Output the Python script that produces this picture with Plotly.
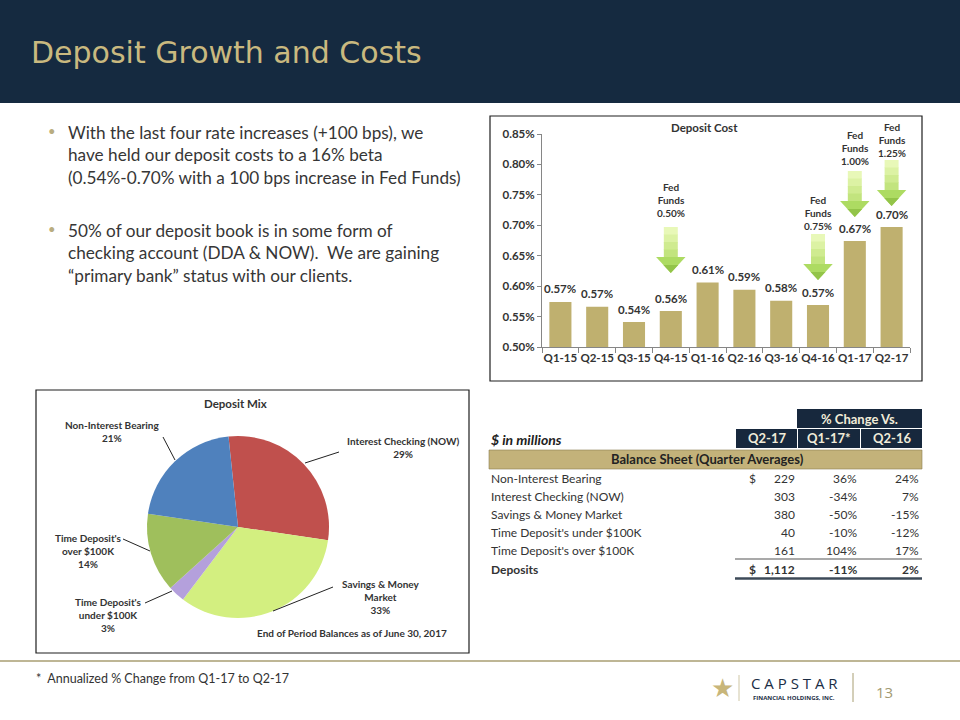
import plotly.graph_objects as go

# ---------------- data ----------------
quarters = ["Q1-15", "Q2-15", "Q3-15", "Q4-15", "Q1-16", "Q2-16", "Q3-16", "Q4-16", "Q1-17", "Q2-17"]
deposit_cost = [0.574, 0.566, 0.541, 0.559, 0.606, 0.594, 0.576, 0.569, 0.674, 0.697]
y_ticks = [0.50, 0.55, 0.60, 0.65, 0.70, 0.75, 0.80, 0.85]

fed_quarters = ["Q4-15", "Q4-16", "Q1-17", "Q2-17"]
fed_rates = ["0.50%", "0.75%", "1.00%", "1.25%"]

mix_labels = ["Interest Checking (NOW)", "Savings & Money Market", "Time Deposit's under $100K",
              "Time Deposit's over $100K", "Non-Interest Bearing"]
mix_values = [29, 33, 3, 14, 21]
mix_colors = ["#c0504d", "#d3ef80", "#b4a0dc", "#9fbf5c", "#4f81bd"]

tbl_labels = ["Non-Interest Bearing", "Interest Checking (NOW)", "Savings & Money Market",
              "Time Deposit's under $100K", "Time Deposit's over $100K", "Deposits"]
tbl_q2_17 = [229, 303, 380, 40, 161, 1112]
tbl_chg_q1_17 = [36, -34, -50, -10, 104, -11]
tbl_chg_q2_16 = [24, 7, -15, -12, 17, 2]
tbl_headers = ["Q2-17", "Q1-17*", "Q2-16"]

W, H = 960, 720
def X(px): return px / W
def Y(py): return 1 - py / H

NAVY = "#152a40"
GOLD = "#c9b97f"
TXT = "#333333"
FONT = "Lato"

ann = []
shapes = []

def A(text, px, py, size, color=TXT, xa="center", ya="middle", family=FONT, align="center"):
    ann.append(dict(x=X(px), y=Y(py), xref="paper", yref="paper", text=text, showarrow=False,
                    xanchor=xa, yanchor=ya, align=align,
                    font=dict(family=family, size=size, color=color)))

def R(x0, y0, x1, y1, fill, line=None, layer="above"):
    shapes.append(dict(type="rect", xref="paper", yref="paper", x0=X(x0), x1=X(x1), y0=Y(y1), y1=Y(y0),
                       fillcolor=fill, line=line or dict(width=0), layer=layer))

def L(x0, y0, x1, y1, color, width):
    shapes.append(dict(type="line", xref="paper", yref="paper", x0=X(x0), y0=Y(y0), x1=X(x1), y1=Y(y1),
                       line=dict(color=color, width=width)))

fig = go.Figure()

# ---------------- slide furniture ----------------
R(0, 0, W, 103, NAVY, layer="below")
R(490, 116, 922, 381, "rgba(0,0,0,0)", dict(color="#1e1e1e", width=1.2), layer="below")
R(36, 390, 469, 653, "rgba(0,0,0,0)", dict(color="#1e1e1e", width=1.2), layer="below")
L(0, 661, W, 661, "#a89e72", 1.5)
A("Deposit Growth and Costs", 29, 53, 30, GOLD, xa="left", family="DejaVu Sans")

bullets = [
    ("With the last four rate increases (+100 bps), we<br>have held our deposit costs to a 16% beta"
     "<br>(0.54%-0.70% with a 100 bps increase in Fed Funds)", 132),
    ("50% of our deposit book is in some form of<br>checking account (DDA &amp; NOW).  We are gaining"
     "<br>\u201cprimary bank\u201d status with our clients.", 230),
]
for t, y0 in bullets:
    A(t, 66, y0 - 12, 17.2, "#363636", xa="left", ya="top", align="left")
    A("\u2022", 46, y0 - 1, 13, "#b9ad80", xa="left")

A("*  Annualized % Change from Q1-17 to Q2-17", 34, 678, 12.5, "#333", xa="left")
# logo
A("\u2605", 722, 688, 26, "#c8b67a", family="DejaVu Sans")
L(739, 675, 739, 701, "#cfc7a6", 1)
A("C A P S T A R", 794, 683, 15, "#1b2d45", family="Open Sans")
A("<b>FINANCIAL HOLDINGS, INC.</b>", 794, 698, 6, "#1b2d45", family="Open Sans")
L(853, 673, 853, 702, "#a89e72", 1)
A("13", 884, 692, 15, "#a39a72", family="Open Sans")

# ---------------- bar chart ----------------
fig.add_trace(go.Bar(
    x=quarters, y=deposit_cost, marker=dict(color="#bfb06f", line=dict(width=0)),
    width=0.6, hoverinfo="skip", showlegend=False, cliponaxis=False,
))
for q, v in zip(quarters, deposit_cost):
    ann.append(dict(x=q, y=v, xref="x", yref="y", text=f"<b>{v:.2f}%</b>", showarrow=False,
                    xanchor="center", yanchor="middle", yshift=13,
                    font=dict(family=FONT, size=11.5, color=TXT)))

fig.update_xaxes(domain=[X(542), X(910)], type="category", showline=True, linecolor="#868686",
                 linewidth=1, ticks="outside", tickson="boundaries", ticklen=5, tickcolor="#868686",
                 tickangle=0, tickfont=dict(family=FONT, size=11.5, color=TXT), showgrid=False,
                 tickvals=quarters, ticktext=[f"<b>{q}</b>" for q in quarters], fixedrange=True,
                 automargin=False)
fig.update_yaxes(domain=[Y(347), Y(134)], range=[0.5, 0.85], showline=True, linecolor="#868686",
                 linewidth=1, ticks="outside", ticklen=4, tickcolor="#868686", showgrid=False,
                 zeroline=False, tickfont=dict(family=FONT, size=11.5, color=TXT),
                 tickvals=y_ticks, ticktext=[f"<b>{t:.2f}%</b>" for t in y_ticks], fixedrange=True,
                 automargin=False)

# fed funds arrows (callouts)
arrow_top = [227, 234, 171, 160]
text_mid = [200, 213, 148, 140]
shaft_cols = ["#e8f8b8", "#dcf2a4", "#cfeb90", "#c2e47e"]
for q, r, top, tm in zip(fed_quarters, fed_rates, arrow_top, text_mid):
    i = quarters.index(q)
    hs, hh = 0.19, 0.40
    head_start = top + 30
    tip = top + 46
    n = len(shaft_cols)
    for k, c in enumerate(shaft_cols):
        y0 = top + (head_start - top) * k / n
        y1 = top + (head_start - top) * (k + 1) / n + 0.5
        shapes.append(dict(type="rect", xref="x", yref="paper", x0=i - hs, x1=i + hs,
                           y0=Y(y1), y1=Y(y0), fillcolor=c, line=dict(width=0), layer="above"))
    shapes.append(dict(type="path", xref="x", yref="paper",
                       path=f"M {i-hh},{Y(head_start)} L {i+hh},{Y(head_start)} L {i},{Y(tip)} Z",
                       fillcolor="#addb62", line=dict(width=0), layer="above"))
    shapes.append(dict(type="path", xref="x", yref="paper",
                       path=f"M {i-hh*0.5},{Y(head_start+8)} L {i+hh*0.5},{Y(head_start+8)} L {i},{Y(tip)} Z",
                       fillcolor="#93c449", line=dict(width=0), layer="above"))
    ann.append(dict(x=i, y=Y(tm), xref="x", yref="paper", text=f"<b>Fed<br>Funds<br>{r}</b>",
                    showarrow=False, xanchor="center", yanchor="middle",
                    font=dict(family=FONT, size=10, color=TXT)))

A("<b>Deposit Cost</b>", 704, 127, 11.5)

# ---------------- pie ----------------
fig.add_trace(go.Pie(
    labels=mix_labels, values=mix_values, sort=False, direction="clockwise", rotation=-6,
    marker=dict(colors=mix_colors, line=dict(width=0)), textinfo="none", hoverinfo="skip",
    showlegend=False, domain=dict(x=[X(147), X(329)], y=[Y(618), Y(436)]),
))
pie_lbl = [
    ("Interest Checking (NOW)<br>29%", 403, 447, (339, 452, 305, 463)),
    ("Savings & Money<br>Market<br>33%", 380, 597, (333, 587, 273, 611)),
    ("Time Deposit's<br>under $100K<br>3%", 108, 615, (145, 603, 172, 591)),
    ("Time Deposit's<br>over $100K<br>14%", 88, 551, (123, 539, 150, 551)),
    ("Non-Interest Bearing<br>21%", 112, 431, (163, 437, 175, 460)),
]
for t, cx, cy, ln in pie_lbl:
    A(f"<b>{t}</b>", cx, cy, 10)
    L(ln[0], ln[1], ln[2], ln[3], "#222", 1)
A("<b>Deposit Mix</b>", 235, 403, 11.5)
A("<b>End of Period Balances as of June 30, 2017</b>", 352, 633, 10)

# ---------------- table ----------------
HNAVY = "#17283d"
HTXT = "#f1ecd9"
R(797, 409, 922, 428, HNAVY)
A("<b>% Change Vs.</b>", 859.5, 418.5, 13, HTXT)
for (x0, x1), t in zip([(736, 797), (798, 860), (861, 922)], tbl_headers):
    R(x0, 429, x1, 448, HNAVY)
    A(f"<b>{t}</b>", (x0 + x1) / 2, 438.5, 13, HTXT)
A("<b><i>$ in millions</i></b>", 489, 439, 14, "#222", xa="left")
R(489, 450, 922, 469, "#c3b27a", dict(color="#8a7d50", width=0.6))
A("<b>Balance Sheet (Quarter Averages)</b>", 707, 459.5, 13, "#222")

n = len(tbl_labels)
for k in range(n):
    yk = 478.5 + k * 18.1
    last = k == n - 1
    fmt = (lambda s: f"<b>{s}</b>") if last else (lambda s: s)
    A(fmt(tbl_labels[k]), 489, yk, 12, xa="left")
    if k == 0 or last:
        A(fmt("$"), 747, yk, 12, xa="left")
    A(fmt(f"{tbl_q2_17[k]:,}"), 797, yk, 12, xa="right")
    A(fmt(f"{tbl_chg_q1_17[k]}%"), 859, yk, 12, xa="right")
    A(fmt(f"{tbl_chg_q2_16[k]}%"), 921, yk, 12, xa="right")
L(735, 559, 922, 559, "#8c8c8c", 1.5)
L(735, 578.5, 922, 578.5, "#3d4a58", 2.5)

fig.update_layout(width=W, height=H, autosize=False,
                  margin=dict(l=0, r=0, t=0, b=0, pad=0, autoexpand=False),
                  paper_bgcolor="white", plot_bgcolor="white", shapes=shapes, annotations=ann,
                  bargap=0.4, showlegend=False)
post = ("document.documentElement.style.margin='0px';document.body.style.margin='0px';"
        "document.body.style.overflow='hidden';document.documentElement.style.overflow='hidden';"
        "var d=document.getElementById('{plot_id}');d.style.position='fixed';d.style.top='0px';"
        "d.style.left='0px';")
fig.write_html("out.html", config={"displayModeBar": False}, post_script=post)
